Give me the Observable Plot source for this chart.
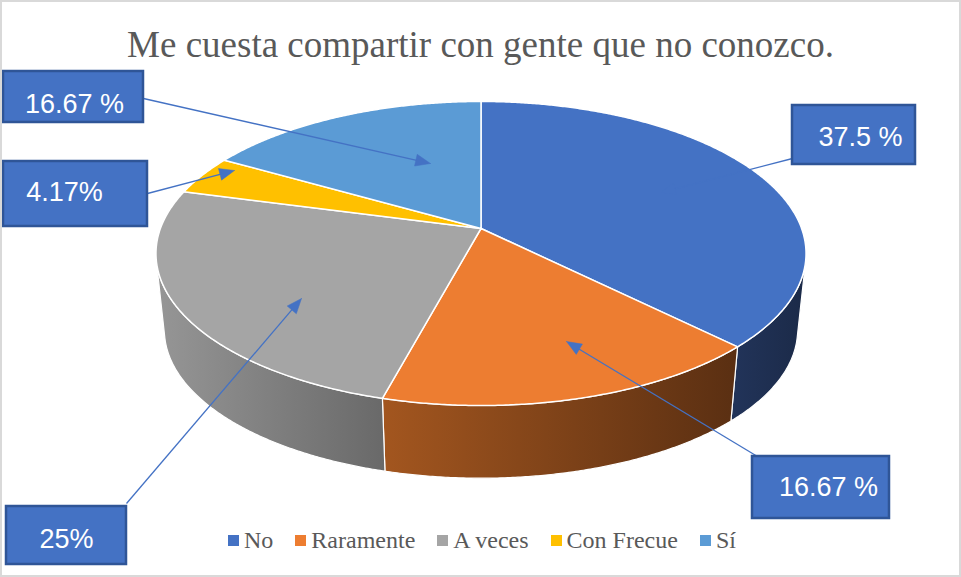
<!DOCTYPE html>
<html><head><meta charset="utf-8">
<script src="https://cdn.jsdelivr.net/npm/d3@7"></script>
<script src="https://cdn.jsdelivr.net/npm/@observablehq/plot@0.6"></script>
<style>
html,body{margin:0;padding:0;background:#fff;}
#chart{position:relative;width:961px;height:577px;overflow:hidden;background:#fff;}
#chart svg{position:absolute;left:0;top:0;}
#title{position:absolute;left:0;top:26px;width:961px;text-align:center;font-family:"Liberation Serif","Times New Roman",serif;font-size:37px;line-height:37px;color:#595959;white-space:nowrap;}
#legend{position:absolute;left:228px;top:528px;display:flex;align-items:center;font-family:"Liberation Serif","Times New Roman",serif;font-size:24px;line-height:24px;color:#595959;white-space:nowrap;}
.item{display:flex;align-items:center;margin-right:22px;}
.sw{width:11px;height:11px;margin-right:5px;}
#frame{position:absolute;left:0;top:0;right:0;bottom:0;border:2px solid #d9d9d9;pointer-events:none;}
</style></head><body>
<div id="chart"><div id="title"></div><div id="legend"></div><div id="frame"></div></div>
<script>
// ---- data ----
const titleText = "Me cuesta compartir con gente que no conozco.";
const categories = ["No", "Raramente", "A veces", "Con Frecue", "Sí"];
const percentages = [37.5, 16.67, 25, 4.17, 16.67];
const labelTexts = ["37.5 %", "16.67 %", "25%", "4.17%", "16.67 %"];

// ---- styles ----
const topColors = ["#4472C4", "#ED7D31", "#A5A5A5", "#FFC000", "#5B9BD5"];
const wallColors = [["#22345a", "#1b2a48"], ["#a3561f", "#5a2f12"], ["#969696", "#696969"], ["#c99a00", "#a07a00"], ["#4a7fb0", "#3a6690"]];

// ---- layout ----
const W = 961, H = 577;
const PIE = {cx: 480.5, cy: 228, a: 320.6, b: 147.9, k: 0.1645, vy: 3200, s: 0.974};
const callouts = [
  {box: [792, 105, 915, 164], tx: 860, ty: 145, from: [792, 158], tip: [660, 192]},
  {box: [752, 456, 889, 518], tx: 828, ty: 495, from: [757, 456], tip: [566, 341]},
  {box: [6, 506, 126, 564], tx: 66, ty: 547, from: [126, 503], tip: [301, 298]},
  {box: [3, 161, 147, 226], tx: 64, ty: 200, from: [147, 193], tip: [234, 170]},
  {box: [3, 71, 143, 122], tx: 74, ty: 112, from: [143, 98], tip: [430, 163]}
];

// ---- geometry ----
function proj(theta, r = 1) {
  const u = r * Math.sin(theta), v = r * Math.cos(theta), w = 1 + PIE.k * v;
  return [PIE.cx + PIE.a * u / w, PIE.cy - PIE.b * v / w];
}
function projBottom(theta) {
  const [x, y] = proj(theta);
  return [PIE.cx + (x - PIE.cx) * PIE.s, PIE.vy - (PIE.vy - y) * PIE.s];
}
// silhouette tangent angle (seen from vanishing point)
let thR = Math.PI / 2, best = -Infinity;
for (let t = 0; t <= Math.PI; t += 0.001) {
  const [x, y] = proj(t); const m = (x - PIE.cx) / (PIE.vy - y);
  if (m > best) { best = m; thR = t; }
}
const thL = 2 * Math.PI - thR;

const total = d3.sum(percentages);
let acc = 0;
const slices = categories.map((c, i) => {
  const a0 = acc / total * 2 * Math.PI; acc += percentages[i];
  return {i, c, a0, a1: acc / total * 2 * Math.PI};
});

function arc(a0, a1, f) {
  const n = Math.max(2, Math.ceil((a1 - a0) / (0.4 * Math.PI / 180)));
  const pts = [];
  for (let j = 0; j <= n; j++) pts.push(f(a0 + (a1 - a0) * j / n));
  return pts;
}

const topRows = slices.map(s => {
  const c = proj(0, 0);
  const pts = [c, ...arc(s.a0, s.a1, t => proj(t)), c];
  return pts.map(([x, y]) => ({id: s.i, x, y}));
});

const wallRows = slices.map(s => {
  const lo = Math.max(s.a0, thR), hi = Math.min(s.a1, thL);
  if (hi <= lo) return [];
  const topA = arc(lo, hi, t => proj(t));
  const botA = arc(lo, hi, t => projBottom(t)).reverse();
  const pts = [...topA, ...botA, topA[0]];
  return pts.map(([x, y]) => ({id: s.i, x, y}));
});

// arrows
const HL = 15, HW = 6;
const shafts = callouts.map((d, i) => {
  const [x1, y1] = d.from, [x2, y2] = d.tip;
  const L = Math.hypot(x2 - x1, y2 - y1), ux = (x2 - x1) / L, uy = (y2 - y1) / L;
  return {i, x1, y1, x2: x2 - ux * (HL - 2), y2: y2 - uy * (HL - 2)};
});
const heads = callouts.flatMap((d, i) => {
  const [x1, y1] = d.from, [x2, y2] = d.tip;
  const L = Math.hypot(x2 - x1, y2 - y1), ux = (x2 - x1) / L, uy = (y2 - y1) / L;
  const bx = x2 - ux * HL, by = y2 - uy * HL;
  return [[x2, y2], [bx - uy * HW, by + ux * HW], [bx + uy * HW, by - ux * HW], [x2, y2]]
    .map(([x, y]) => ({id: i, x, y}));
});

const marks = [];
wallRows.forEach((rows, i) => {
  if (rows.length) marks.push(Plot.line(rows, {x: "x", y: "y", fill: `url(#wall${i})`, stroke: "#ffffff", strokeWidth: 1.2, strokeLinejoin: "round"}));
});
topRows.forEach((rows, i) => {
  marks.push(Plot.line(rows, {x: "x", y: "y", fill: topColors[i], stroke: "#ffffff", strokeWidth: 1.5, strokeLinejoin: "round"}));
});
marks.push(Plot.link(shafts, {x1: "x1", y1: "y1", x2: "x2", y2: "y2", stroke: "#4472C4", strokeWidth: 1.3}));
marks.push(Plot.line(heads, {x: "x", y: "y", z: "id", fill: "#4472C4", stroke: "#4472C4", strokeWidth: 0.5}));
marks.push(Plot.rect(callouts, {x1: d => d.box[0], y1: d => d.box[1], x2: d => d.box[2], y2: d => d.box[3], fill: "#4472C4", stroke: "#2F5597", strokeWidth: 2.5}));
marks.push(Plot.text(callouts, {x: "tx", y: "ty", text: (d, i) => labelTexts[i], fill: "#ffffff", fontSize: 27, fontFamily: "Liberation Sans, Arial, sans-serif", textAnchor: "middle", lineAnchor: "bottom"}));

const svg = Plot.plot({
  width: W, height: H, margin: 0,
  x: {domain: [0, W], range: [0, W], axis: null},
  y: {domain: [0, H], range: [0, H], axis: null},
  style: {background: "transparent"},
  marks
});

// gradients for side walls
const NS = "http://www.w3.org/2000/svg";
const defs = document.createElementNS(NS, "defs");
wallColors.forEach(([c0, c1], i) => {
  const g = document.createElementNS(NS, "linearGradient");
  g.setAttribute("id", `wall${i}`);
  g.setAttribute("x1", "0"); g.setAttribute("y1", "0"); g.setAttribute("x2", "1"); g.setAttribute("y2", "0");
  [[0, c0], [1, c1]].forEach(([o, c]) => {
    const st = document.createElementNS(NS, "stop");
    st.setAttribute("offset", o); st.setAttribute("stop-color", c);
    g.appendChild(st);
  });
  defs.appendChild(g);
});
svg.insertBefore(defs, svg.firstChild);

const chart = document.getElementById("chart");
chart.insertBefore(svg, chart.firstChild);

document.getElementById("title").textContent = titleText;
const legend = document.getElementById("legend");
categories.forEach((c, i) => {
  const it = document.createElement("div"); it.className = "item";
  const sw = document.createElement("div"); sw.className = "sw"; sw.style.background = topColors[i];
  const tx = document.createElement("span"); tx.textContent = c;
  it.appendChild(sw); it.appendChild(tx);
  if (i === categories.length - 1) it.style.marginRight = "0";
  legend.appendChild(it);
});
</script>
</body></html>
